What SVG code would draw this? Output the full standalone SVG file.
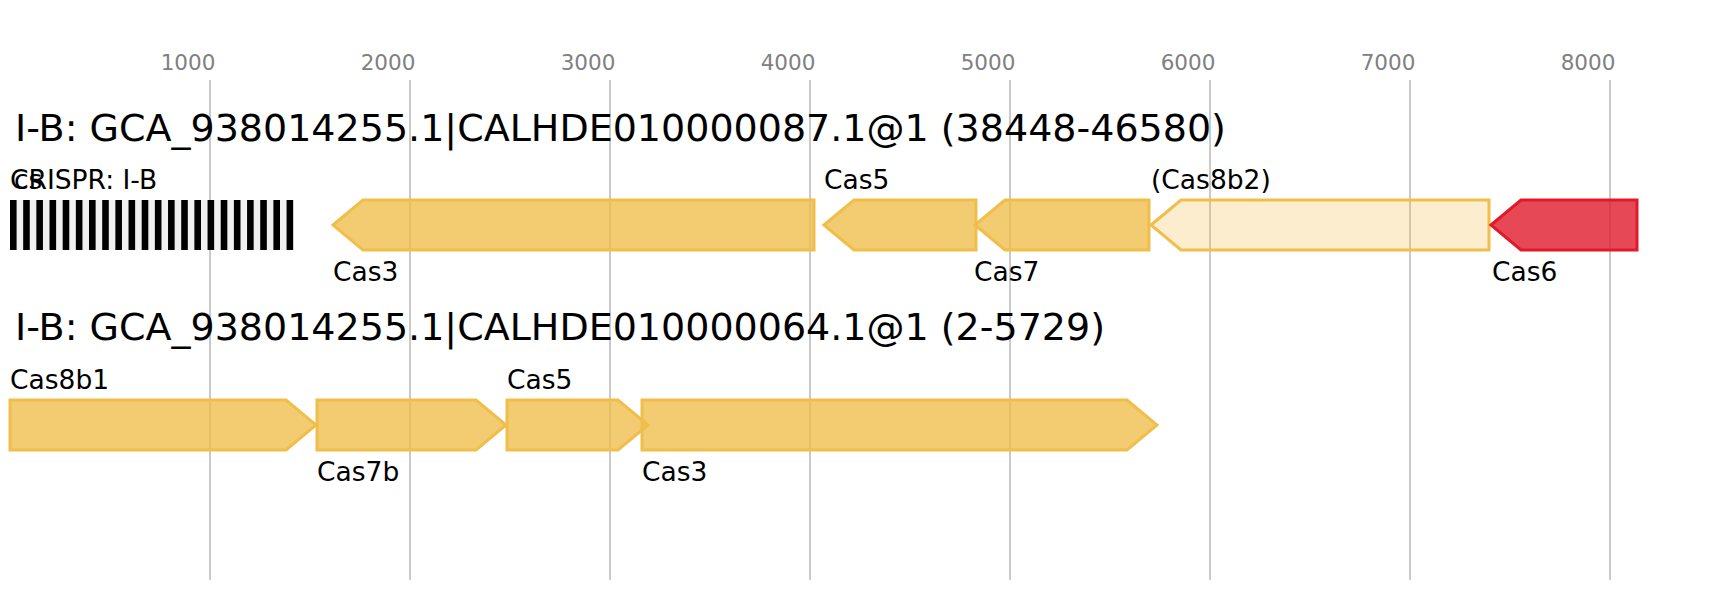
<svg xmlns="http://www.w3.org/2000/svg" width="1726" height="600" viewBox="0 0 1726 600">
<style>
text{font-family:"DejaVu Sans","Liberation Sans",sans-serif;fill:#000}
.tick{font-size:21.5px;fill:#808080;text-anchor:middle}
.title{font-size:38px}
.lbl{font-size:26.5px}
.grid{stroke:#bdbdbd;stroke-width:1.6}
.cas{fill:#F0BE4A;fill-opacity:0.78;stroke:#F0BE4A;stroke-width:3}
.casl{fill:#F0BE4A;fill-opacity:0.27;stroke:#F0BE4A;stroke-width:3}
.cas6{fill:#E11A2A;fill-opacity:0.8;stroke:#E11A2A;stroke-width:3}
.rep{fill:#000}
</style>
<rect width="1726" height="600" fill="#fff"/>
<g id="axis">
<line class="grid" x1="210" y1="80" x2="210" y2="580"/>
<line class="grid" x1="410" y1="80" x2="410" y2="580"/>
<line class="grid" x1="610" y1="80" x2="610" y2="580"/>
<line class="grid" x1="810" y1="80" x2="810" y2="580"/>
<line class="grid" x1="1010" y1="80" x2="1010" y2="580"/>
<line class="grid" x1="1210" y1="80" x2="1210" y2="580"/>
<line class="grid" x1="1410" y1="80" x2="1410" y2="580"/>
<line class="grid" x1="1610" y1="80" x2="1610" y2="580"/>
<text class="tick" x="188" y="70">1000</text>
<text class="tick" x="388" y="70">2000</text>
<text class="tick" x="588" y="70">3000</text>
<text class="tick" x="788" y="70">4000</text>
<text class="tick" x="988" y="70">5000</text>
<text class="tick" x="1188" y="70">6000</text>
<text class="tick" x="1388" y="70">7000</text>
<text class="tick" x="1588" y="70">8000</text>
</g>
<text class="title" x="15" y="141">I-B: GCA_938014255.1|CALHDE010000087.1@1 (38448-46580)</text>
<text class="title" x="15" y="340">I-B: GCA_938014255.1|CALHDE010000064.1@1 (2-5729)</text>
<g id="connectors"/>
<g id="crispr">
<rect x="10" y="200" width="283" height="50" fill="#f0f0f0"/>
<rect class="rep" x="10" y="200" width="6.6" height="50"/>
<rect class="rep" x="23.17" y="200" width="6.6" height="50"/>
<rect class="rep" x="36.34" y="200" width="6.6" height="50"/>
<rect class="rep" x="49.51" y="200" width="6.6" height="50"/>
<rect class="rep" x="62.68" y="200" width="6.6" height="50"/>
<rect class="rep" x="75.85" y="200" width="6.6" height="50"/>
<rect class="rep" x="89.02" y="200" width="6.6" height="50"/>
<rect class="rep" x="102.19" y="200" width="6.6" height="50"/>
<rect class="rep" x="115.36" y="200" width="6.6" height="50"/>
<rect class="rep" x="128.53" y="200" width="6.6" height="50"/>
<rect class="rep" x="141.7" y="200" width="6.6" height="50"/>
<rect class="rep" x="154.87" y="200" width="6.6" height="50"/>
<rect class="rep" x="168.04" y="200" width="6.6" height="50"/>
<rect class="rep" x="181.21" y="200" width="6.6" height="50"/>
<rect class="rep" x="194.38" y="200" width="6.6" height="50"/>
<rect class="rep" x="207.55" y="200" width="6.6" height="50"/>
<rect class="rep" x="220.72" y="200" width="6.6" height="50"/>
<rect class="rep" x="233.89" y="200" width="6.6" height="50"/>
<rect class="rep" x="247.06" y="200" width="6.6" height="50"/>
<rect class="rep" x="260.23" y="200" width="6.6" height="50"/>
<rect class="rep" x="273.4" y="200" width="6.6" height="50"/>
<rect class="rep" x="286.57" y="200" width="6.6" height="50"/>
<text class="lbl" x="10" y="189">CRISPR: I-B</text>
<text class="lbl" x="14" y="189">cs</text>
</g>
<g id="r1-cas3">
<polygon class="cas" points="333,225 363,200 814,200 814,250 363,250"/>
<text class="lbl" x="333" y="281">Cas3</text>
</g>
<g id="r1-cas5">
<polygon class="cas" points="824,225 854,200 976,200 976,250 854,250"/>
<text class="lbl" x="824" y="189">Cas5</text>
</g>
<g id="r1-cas7">
<polygon class="cas" points="975,225 1005,200 1149,200 1149,250 1005,250"/>
<text class="lbl" x="974" y="281">Cas7</text>
</g>
<g id="r1-cas8b2">
<polygon class="casl" points="1151,225 1181,200 1489,200 1489,250 1181,250"/>
<text class="lbl" x="1151" y="189">(Cas8b2)</text>
</g>
<g id="r1-cas6">
<polygon class="cas6" points="1491,225 1521,200 1637,200 1637,250 1521,250"/>
<text class="lbl" x="1492" y="281">Cas6</text>
</g>
<g id="r2-cas8b1">
<polygon class="cas" points="10,400 286,400 316,425 286,450 10,450"/>
<text class="lbl" x="10" y="389">Cas8b1</text>
</g>
<g id="r2-cas7b">
<polygon class="cas" points="317,400 476,400 506,425 476,450 317,450"/>
<text class="lbl" x="317" y="481">Cas7b</text>
</g>
<g id="r2-cas5">
<polygon class="cas" points="507,400 618,400 648,425 618,450 507,450"/>
<text class="lbl" x="507" y="389">Cas5</text>
</g>
<g id="r2-cas3">
<polygon class="cas" points="642,400 1127,400 1157,425 1127,450 642,450"/>
<text class="lbl" x="642" y="481">Cas3</text>
</g>
</svg>
